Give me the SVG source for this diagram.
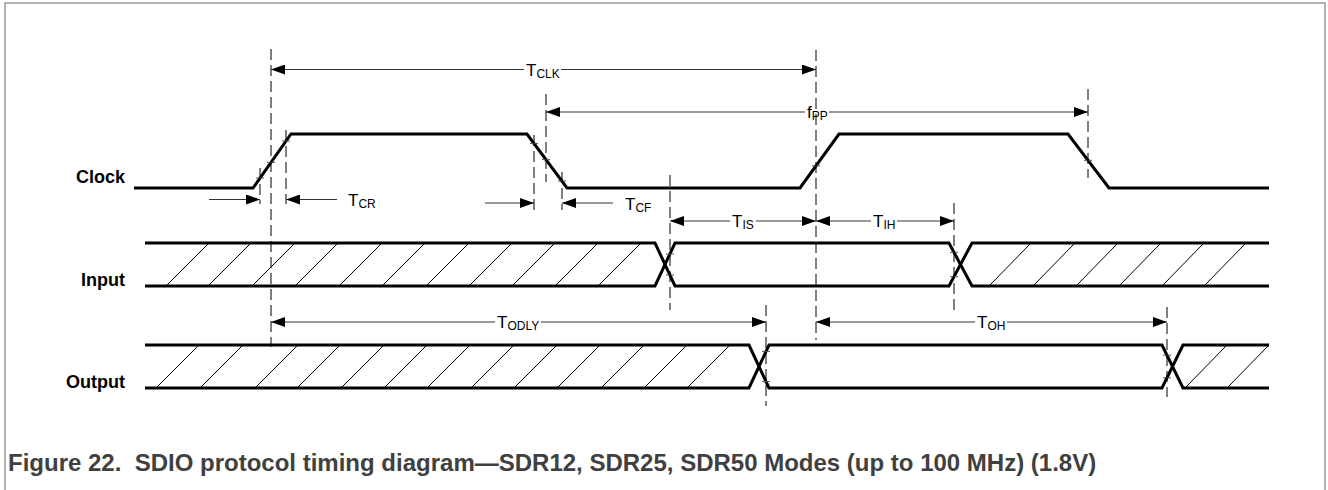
<svg xmlns="http://www.w3.org/2000/svg" width="1328" height="490" viewBox="0 0 1328 490">
<style>
.frame{fill:none;stroke:#9a9a9a;stroke-width:1.5}
.sig{fill:none;stroke:#000;stroke-width:3;stroke-linejoin:miter}
.hatch{stroke:#000;stroke-width:1}
.dash{stroke:#000;stroke-width:1;stroke-dasharray:11 5;fill:none}
.dim{stroke:#333;stroke-width:1;fill:none}
.ae{marker-end:url(#ah)}
.as{marker-start:url(#ah)}
.tick{stroke:#555;stroke-width:1}
.lbl{font-family:"Liberation Sans",Arial,sans-serif;font-weight:bold;font-size:18px;fill:#000;text-anchor:end}
.tm{font-family:"Liberation Sans",Arial,sans-serif;font-size:17px;fill:#000}
.sub{font-size:12px}
.cap{font-family:"Liberation Sans",Arial,sans-serif;font-weight:bold;font-size:24px;fill:#404040}
</style>
<defs>
<marker id="ah" viewBox="0 0 14 10" refX="14" refY="5" markerWidth="14" markerHeight="10" markerUnits="userSpaceOnUse" orient="auto-start-reverse"><path d="M0,0 L14,5 L0,10 z" fill="#000"/></marker>
</defs>
<rect class="frame" x="5" y="3" width="1320" height="530"/>

<g id="clock">
<text class="lbl" x="125" y="183">Clock</text>
<path class="sig" d="M134,188 H253 L291,134 H527 L567,188 H800 L839,134 H1068 L1109,188 H1269"/>
<g class="tick">
<path d="M256,178 h8 M267,162.4 h8 M282,141 h8 M530,143.5 h8 M542,159.6 h8 M558,181 h8 M812,165.8 h8 M1084,160.3 h8"/>
</g>
</g>

<g id="input">
<text class="lbl" x="125" y="286">Input</text>
<path class="sig" d="M145,243 H655 L675,286 H949 L972,243 H1269"/>
<path class="sig" d="M145,286 H655 L675,243 H949 L972,286 H1269"/>
<g class="hatch">
<path d="M167,285 l41,-41 M209,285 l41,-41 M253,285 l41,-41 M296,285 l41,-41 M340,285 l41,-41 M383,285 l41,-41 M427,285 l41,-41 M470,285 l41,-41 M513,285 l41,-41 M556,285 l41,-41 M599,285 l41,-41"/>
<path d="M990,285 l40,-41 M1034,285 l40,-41 M1077,285 l40,-41 M1120,285 l40,-41 M1163,285 l40,-41 M1205,285 l40,-41"/>
</g>
<g class="tick"><path d="M666,254 h8 M666,275 h8 M950,252.3 h8 M950,276.7 h8"/></g>
</g>

<g id="output">
<text class="lbl" x="125" y="388">Output</text>
<path class="sig" d="M145,345 H749 L769,388 H1162 L1183,345 H1269"/>
<path class="sig" d="M145,388 H749 L769,345 H1162 L1183,388 H1269"/>
<g class="hatch">
<path d="M157,387 l41,-41 M201,387 l41,-41 M256,387 l41,-41 M298,387 l41,-41 M342,387 l41,-41 M385,387 l41,-41 M428,387 l41,-41 M472,387 l41,-41 M515,387 l41,-41 M558,387 l41,-41 M602,387 l41,-41 M645,387 l41,-41 M688,387 l41,-41"/>
<path d="M1186,387 l40,-41 M1228,387 l40,-41"/>
</g>
<g class="tick"><path d="M762,351.4 h8 M762,381.6 h8 M1163,355.2 h8 M1163,377.8 h8"/></g>
</g>

<g id="connectors">
<g class="dash">
<path d="M271,49 V347"/>
<path d="M260,168 V204"/>
<path d="M286,130 V204"/>
<path d="M534,135 V210"/>
<path d="M546,94 V182"/>
<path d="M562,172 V210"/>
<path d="M816,50 V340"/>
<path d="M670,175 V310"/>
<path d="M954,203 V310"/>
<path d="M1088,89 V178"/>
<path d="M766,305 V406"/>
<path d="M1167,307 V397"/>
</g>
<g class="dim">
<path class="as" d="M271,69.5 H524"/>
<path class="ae" d="M561,69.5 H816"/>
<path class="as" d="M546,112 H805"/>
<path class="ae" d="M829,112 H1088"/>
<path class="ae" d="M209,199.5 H260"/>
<path class="as" d="M286,199.5 H337"/>
<path class="ae" d="M485,203 H534"/>
<path class="as" d="M562,203 H613"/>
<path class="as" d="M670,221 H730"/>
<path class="ae" d="M756,221 H816"/>
<path class="as" d="M816,221 H871"/>
<path class="ae" d="M897,221 H954"/>
<path class="as" d="M271,322 H495"/>
<path class="ae" d="M541,322 H766"/>
<path class="as" d="M816,322 H975"/>
<path class="ae" d="M1007,322 H1167"/>
</g>
</g>

<g id="timing-labels">
<text class="tm" x="526" y="75.5">T<tspan class="sub" dy="2">CLK</tspan></text>
<text class="tm" x="807" y="118">f<tspan class="sub" dy="2">PP</tspan></text>
<text class="tm" x="348" y="206">T<tspan class="sub" dy="2">CR</tspan></text>
<text class="tm" x="625" y="209.5">T<tspan class="sub" dy="2">CF</tspan></text>
<text class="tm" x="732" y="227">T<tspan class="sub" dy="2">IS</tspan></text>
<text class="tm" x="873" y="227">T<tspan class="sub" dy="2">IH</tspan></text>
<text class="tm" x="497" y="328">T<tspan class="sub" dy="2">ODLY</tspan></text>
<text class="tm" x="977" y="328">T<tspan class="sub" dy="2">OH</tspan></text>
</g>

<text class="cap" x="8" y="471" xml:space="preserve">Figure 22.  SDIO protocol timing diagram—SDR12, SDR25, SDR50 Modes (up to 100 MHz) (1.8V)</text>
</svg>
